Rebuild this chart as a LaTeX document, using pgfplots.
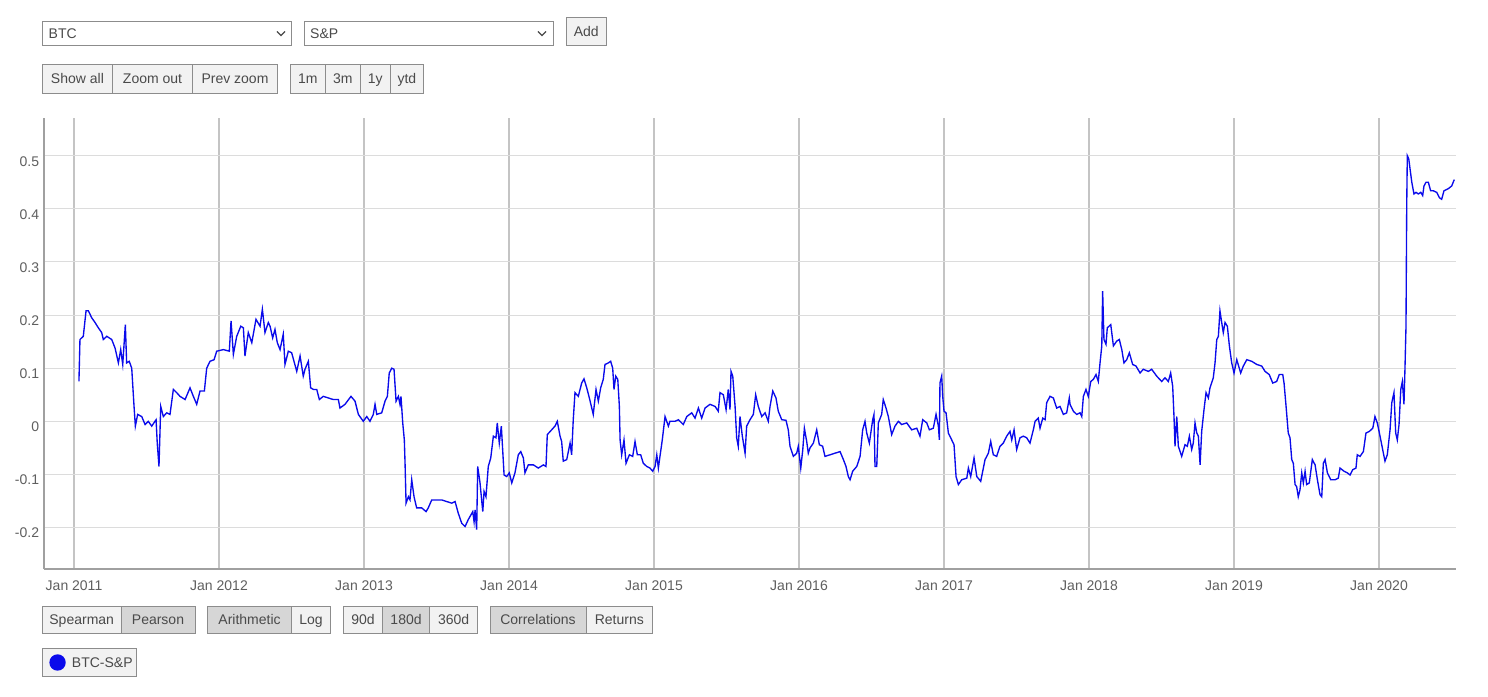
\documentclass[border=0pt]{standalone}
\usepackage{fontspec}
\setmainfont{Liberation Sans}
\usepackage{pgfplots}
\pgfplotsset{compat=1.18}
\definecolor{bordergray}{HTML}{8C8C8C}
\definecolor{btnfill}{HTML}{F2F2F2}
\definecolor{btnsel}{HTML}{D6D6D6}
\definecolor{btntext}{HTML}{4A4A4A}
\definecolor{ticktext}{HTML}{5F5F5F}
\definecolor{vgrid}{HTML}{C4C4C4}
\definecolor{hgrid}{HTML}{DCDCDC}
\definecolor{axisgray}{HTML}{A0A0A0}
\definecolor{lineblue}{RGB}{10,10,235}
\newcommand{\uifont}{\fontsize{14}{16}\selectfont}
% button: x1 y1 x2 y2 fill text   (image coordinates, y down)
\newcommand{\btn}[6]{%
  \draw[draw=bordergray, fill=#5, line width=1pt] (#1,#2) rectangle (#3,#4);
  \node[anchor=base, inner sep=0pt, text=btntext, font=\uifont] at ({(#1+#3)/2},{(#2+#4)/2+5}) {#6};}
\begin{document}
\begin{tikzpicture}[x=1pt,y=1pt]
\path[use as bounding box, fill=white] (0,0) rectangle (1488,696);
\begin{scope}[shift={(0,696)}, yscale=-1]
  % dropdowns
  \draw[draw=bordergray, fill=white, line width=1pt] (42.3,21.5) rectangle (291.5,46);
  \node[anchor=base west, inner sep=0pt, text=btntext, font=\uifont] at (48.5,38.8) {BTC};
  \draw[btntext, line width=1.2pt] (277,31.5) -- (281,35.5) -- (285,31.5);
  \draw[draw=bordergray, fill=white, line width=1pt] (304.3,21.5) rectangle (553,46);
  \node[anchor=base west, inner sep=0pt, text=btntext, font=\uifont] at (310,38.8) {S\&P};
  \draw[btntext, line width=1.2pt] (538,31.5) -- (542,35.5) -- (546,31.5);
  \btn{566.4}{17.3}{606}{46}{btnfill}{Add}
  % zoom buttons
  \btn{42.3}{64.3}{112.6}{93.3}{btnfill}{Show all}
  \btn{112.6}{64.3}{192.5}{93.3}{btnfill}{Zoom out}
  \btn{192.5}{64.3}{277.5}{93.3}{btnfill}{Prev zoom}
  \btn{290.5}{64.3}{325.3}{93.3}{btnfill}{1m}
  \btn{325.3}{64.3}{360.5}{93.3}{btnfill}{3m}
  \btn{360.5}{64.3}{390}{93.3}{btnfill}{1y}
  \btn{390}{64.3}{423.7}{93.3}{btnfill}{ytd}
  % bottom buttons
  \btn{42.4}{606.7}{121}{633.3}{btnfill}{Spearman}
  \btn{121}{606.7}{195}{633.3}{btnsel}{Pearson}
  \btn{207.6}{606.7}{291.5}{633.3}{btnsel}{Arithmetic}
  \btn{291.5}{606.7}{330.4}{633.3}{btnfill}{Log}
  \btn{343.3}{606.7}{382.6}{633.3}{btnfill}{90d}
  \btn{382.6}{606.7}{429.5}{633.3}{btnsel}{180d}
  \btn{429.5}{606.7}{477.7}{633.3}{btnfill}{360d}
  \btn{490}{606.7}{586}{633.3}{btnsel}{Correlations}
  \btn{586}{606.7}{652.7}{633.3}{btnfill}{Returns}
\end{scope}
\begin{axis}[
  at={(44pt,127pt)}, anchor=south west,
  scale only axis, width=1411.7pt, height=451pt,
  xmin=2010.793, xmax=2020.529, ymin=-0.278, ymax=0.571,
  axis x line*=bottom, axis y line*=left,
  axis line style={axisgray, line width=1.6pt},
  major tick length=0pt,
  xtick={2011,2012,2013,2014,2015,2016,2017,2018,2019,2020},
  xticklabels={Jan 2011,Jan 2012,Jan 2013,Jan 2014,Jan 2015,Jan 2016,Jan 2017,Jan 2018,Jan 2019,Jan 2020},
  ytick={-0.2,-0.1,0,0.1,0.2,0.3,0.4,0.5},
  yticklabels={-0.2,-0.1,0,0.1,0.2,0.3,0.4,0.5},
  xmajorgrids, ymajorgrids,
  x grid style={vgrid, line width=1.5pt},
  y grid style={hgrid, line width=1pt},
  xticklabel style={anchor=base, inner sep=0pt, yshift=-21.5pt, font=\uifont, text=ticktext},
  yticklabel style={anchor=base east, inner sep=0pt, xshift=-4.7pt, yshift=-10.3pt, font=\uifont, text=ticktext},
  legend style={at={(-0.0011,-0.1758)}, anchor=north west, draw=bordergray, fill=btnfill,
    line width=1pt, font=\uifont, text=btntext, inner xsep=0pt, inner ysep=0pt,
    nodes={inner sep=0pt}, /tikz/every even column/.append style={column sep=0pt}},
  legend image code/.code={\path[draw=none, fill=none] (0pt,-13.2pt) rectangle (29pt,14.2pt);
    \fill[lineblue] (14.6pt,0.5pt) circle (7.5pt);},
  clip=false,
]
\addplot[lineblue, line width=1.35pt] table[x=t, y=r] {
t r
2011.034 0.075
2011.041 0.154
2011.064 0.160
2011.083 0.208
2011.099 0.208
2011.122 0.195
2011.145 0.186
2011.168 0.176
2011.191 0.167
2011.202 0.154
2011.226 0.160
2011.260 0.154
2011.283 0.138
2011.306 0.110
2011.322 0.135
2011.336 0.107
2011.354 0.182
2011.363 0.110
2011.381 0.113
2011.398 0.100
2011.414 0.028
2011.423 -0.009
2011.439 0.013
2011.467 0.009
2011.490 -0.006
2011.512 0.000
2011.536 -0.009
2011.566 0.003
2011.574 -0.041
2011.586 -0.085
2011.598 0.028
2011.616 0.009
2011.639 0.016
2011.662 0.013
2011.685 0.060
2011.708 0.054
2011.731 0.047
2011.766 0.041
2011.800 0.063
2011.823 0.047
2011.846 0.032
2011.869 0.057
2011.899 0.057
2011.915 0.100
2011.938 0.113
2011.966 0.116
2011.984 0.132
2012.030 0.135
2012.071 0.132
2012.083 0.189
2012.099 0.126
2012.122 0.160
2012.150 0.179
2012.168 0.176
2012.179 0.123
2012.202 0.167
2012.226 0.148
2012.255 0.192
2012.283 0.179
2012.299 0.211
2012.317 0.167
2012.340 0.186
2012.352 0.179
2012.370 0.157
2012.386 0.173
2012.402 0.148
2012.421 0.135
2012.443 0.164
2012.455 0.107
2012.478 0.132
2012.501 0.129
2012.536 0.094
2012.559 0.123
2012.581 0.085
2012.593 0.098
2012.616 0.113
2012.632 0.063
2012.651 0.060
2012.674 0.060
2012.692 0.041
2012.719 0.047
2012.754 0.044
2012.788 0.041
2012.823 0.041
2012.834 0.025
2012.869 0.032
2012.910 0.047
2012.938 0.038
2012.961 0.013
2012.995 0.000
2013.019 0.009
2013.041 0.000
2013.064 0.013
2013.076 0.032
2013.088 0.013
2013.122 0.016
2013.145 0.038
2013.161 0.047
2013.174 0.091
2013.191 0.100
2013.207 0.098
2013.221 0.038
2013.237 0.047
2013.248 0.032
2013.255 0.047
2013.267 -0.003
2013.278 -0.035
2013.283 -0.079
2013.290 -0.154
2013.306 -0.142
2013.317 -0.148
2013.329 -0.110
2013.345 -0.142
2013.363 -0.163
2013.398 -0.163
2013.428 -0.170
2013.443 -0.163
2013.467 -0.148
2013.501 -0.148
2013.536 -0.148
2013.570 -0.151
2013.605 -0.154
2013.628 -0.151
2013.650 -0.173
2013.674 -0.192
2013.697 -0.198
2013.719 -0.185
2013.750 -0.170
2013.759 -0.189
2013.766 -0.167
2013.777 -0.204
2013.784 -0.085
2013.800 -0.116
2013.819 -0.170
2013.828 -0.132
2013.841 -0.142
2013.857 -0.085
2013.874 -0.069
2013.892 -0.028
2013.910 -0.031
2013.919 -0.003
2013.933 -0.041
2013.947 -0.009
2013.966 -0.101
2013.984 -0.104
2014.002 -0.097
2014.019 -0.116
2014.041 -0.097
2014.064 -0.063
2014.081 -0.057
2014.099 -0.069
2014.110 -0.097
2014.133 -0.082
2014.168 -0.082
2014.202 -0.088
2014.237 -0.082
2014.255 -0.085
2014.264 -0.025
2014.294 -0.016
2014.317 -0.009
2014.333 0.000
2014.352 -0.028
2014.363 -0.038
2014.374 -0.075
2014.398 -0.072
2014.421 -0.041
2014.432 -0.063
2014.443 0.003
2014.455 0.054
2014.478 0.047
2014.501 0.072
2014.517 0.080
2014.536 0.063
2014.554 0.044
2014.581 0.013
2014.600 0.060
2014.616 0.038
2014.632 0.063
2014.650 0.079
2014.662 0.107
2014.685 0.110
2014.701 0.113
2014.715 0.100
2014.724 0.060
2014.736 0.085
2014.750 0.079
2014.761 0.028
2014.766 -0.035
2014.777 -0.063
2014.793 -0.035
2014.807 -0.079
2014.830 -0.063
2014.853 -0.066
2014.869 -0.038
2014.885 -0.063
2014.908 -0.063
2014.926 -0.079
2014.950 -0.085
2014.972 -0.088
2014.991 -0.094
2015.007 -0.085
2015.019 -0.063
2015.030 -0.088
2015.041 -0.066
2015.057 -0.035
2015.076 0.009
2015.099 -0.009
2015.110 0.000
2015.145 0.000
2015.168 0.003
2015.202 -0.006
2015.226 0.009
2015.260 0.016
2015.283 0.006
2015.306 0.025
2015.329 0.006
2015.352 0.025
2015.386 0.032
2015.421 0.028
2015.443 0.019
2015.455 0.054
2015.478 0.050
2015.497 0.022
2015.512 0.060
2015.524 0.022
2015.531 0.094
2015.543 0.085
2015.559 0.028
2015.570 -0.031
2015.581 -0.047
2015.593 0.009
2015.609 -0.028
2015.628 -0.060
2015.639 -0.009
2015.662 0.003
2015.685 0.013
2015.701 0.050
2015.719 0.028
2015.743 0.009
2015.766 0.016
2015.788 0.000
2015.800 0.028
2015.819 0.057
2015.841 0.044
2015.857 0.019
2015.881 0.003
2015.910 0.002
2015.926 -0.016
2015.938 -0.047
2015.961 -0.066
2015.984 -0.060
2015.995 -0.047
2016.012 -0.088
2016.026 -0.053
2016.037 -0.013
2016.053 -0.038
2016.064 -0.060
2016.076 -0.050
2016.099 -0.041
2016.122 -0.016
2016.140 -0.044
2016.163 -0.047
2016.179 -0.066
2016.214 -0.063
2016.248 -0.060
2016.283 -0.057
2016.306 -0.072
2016.324 -0.085
2016.340 -0.104
2016.352 -0.110
2016.370 -0.094
2016.398 -0.085
2016.421 -0.066
2016.439 -0.016
2016.455 0.000
2016.467 -0.022
2016.485 -0.041
2016.508 0.003
2016.517 0.013
2016.524 -0.085
2016.536 -0.085
2016.547 -0.003
2016.570 0.013
2016.581 0.041
2016.600 0.025
2016.616 0.009
2016.639 -0.025
2016.662 -0.009
2016.685 0.000
2016.708 -0.006
2016.743 -0.003
2016.777 -0.016
2016.812 -0.013
2016.834 -0.028
2016.853 0.003
2016.881 -0.003
2016.899 -0.016
2016.926 -0.013
2016.945 0.013
2016.961 -0.009
2016.968 -0.035
2016.972 0.072
2016.984 0.085
2016.991 0.047
2017.000 0.019
2017.014 0.016
2017.030 -0.022
2017.053 -0.035
2017.069 -0.044
2017.083 -0.104
2017.099 -0.119
2017.122 -0.110
2017.157 -0.107
2017.168 -0.088
2017.184 -0.104
2017.207 -0.069
2017.226 -0.104
2017.253 -0.113
2017.283 -0.072
2017.306 -0.060
2017.322 -0.038
2017.340 -0.063
2017.363 -0.066
2017.386 -0.047
2017.409 -0.041
2017.432 -0.028
2017.455 -0.019
2017.467 -0.035
2017.483 -0.016
2017.501 -0.053
2017.524 -0.031
2017.547 -0.028
2017.570 -0.031
2017.593 -0.041
2017.616 -0.016
2017.628 0.000
2017.650 0.006
2017.662 -0.013
2017.681 0.006
2017.697 0.003
2017.708 0.035
2017.731 0.047
2017.754 0.044
2017.777 0.025
2017.800 0.028
2017.823 0.013
2017.846 0.016
2017.864 0.044
2017.869 0.032
2017.892 0.019
2017.915 0.013
2017.938 0.016
2017.950 0.009
2017.961 0.047
2017.979 0.060
2017.995 0.047
2018.012 0.075
2018.030 0.079
2018.048 0.088
2018.064 0.075
2018.076 0.110
2018.088 0.142
2018.094 0.245
2018.103 0.154
2018.117 0.145
2018.126 0.176
2018.150 0.182
2018.168 0.142
2018.191 0.151
2018.209 0.154
2018.226 0.135
2018.241 0.110
2018.260 0.116
2018.278 0.129
2018.301 0.107
2018.324 0.104
2018.352 0.091
2018.374 0.098
2018.409 0.094
2018.432 0.098
2018.467 0.085
2018.501 0.075
2018.524 0.082
2018.547 0.075
2018.563 0.091
2018.577 0.066
2018.586 0.009
2018.593 -0.047
2018.605 0.009
2018.616 -0.047
2018.639 -0.066
2018.662 -0.044
2018.678 -0.047
2018.692 -0.028
2018.708 -0.053
2018.719 -0.041
2018.731 -0.003
2018.743 -0.022
2018.754 -0.028
2018.766 -0.082
2018.777 -0.019
2018.793 0.022
2018.807 0.054
2018.823 0.044
2018.834 0.063
2018.857 0.082
2018.869 0.110
2018.881 0.154
2018.892 0.160
2018.903 0.208
2018.915 0.186
2018.926 0.167
2018.938 0.186
2018.954 0.179
2018.968 0.142
2018.984 0.110
2019.000 0.091
2019.019 0.116
2019.046 0.091
2019.064 0.104
2019.088 0.116
2019.122 0.113
2019.157 0.107
2019.191 0.104
2019.214 0.094
2019.243 0.088
2019.267 0.072
2019.294 0.075
2019.312 0.088
2019.336 0.088
2019.345 0.072
2019.359 0.028
2019.374 -0.022
2019.386 -0.031
2019.398 -0.072
2019.409 -0.079
2019.421 -0.119
2019.432 -0.123
2019.443 -0.142
2019.455 -0.129
2019.467 -0.097
2019.478 -0.116
2019.490 -0.094
2019.501 -0.119
2019.519 -0.116
2019.540 -0.072
2019.559 -0.082
2019.575 -0.110
2019.593 -0.138
2019.605 -0.142
2019.616 -0.079
2019.628 -0.072
2019.644 -0.097
2019.667 -0.110
2019.697 -0.110
2019.719 -0.107
2019.731 -0.088
2019.759 -0.094
2019.781 -0.097
2019.800 -0.101
2019.819 -0.091
2019.841 -0.088
2019.850 -0.063
2019.869 -0.066
2019.892 -0.057
2019.910 -0.022
2019.933 -0.019
2019.957 -0.013
2019.972 0.009
2019.988 -0.003
2020.007 -0.028
2020.025 -0.053
2020.041 -0.075
2020.057 -0.063
2020.076 -0.016
2020.088 0.035
2020.103 0.054
2020.115 -0.022
2020.126 -0.035
2020.138 -0.006
2020.150 0.060
2020.161 0.075
2020.172 0.032
2020.179 0.100
2020.186 0.179
2020.191 0.406
2020.195 0.500
2020.205 0.494
2020.214 0.475
2020.226 0.450
2020.241 0.428
2020.255 0.431
2020.271 0.428
2020.288 0.431
2020.301 0.425
2020.310 0.443
2020.324 0.450
2020.340 0.450
2020.356 0.434
2020.374 0.434
2020.398 0.431
2020.416 0.421
2020.432 0.418
2020.448 0.434
2020.478 0.438
2020.501 0.443
2020.519 0.455
};
\addlegendentry{BTC-S\&P\kern3.5pt}
\end{axis}
\end{tikzpicture}
\end{document}
